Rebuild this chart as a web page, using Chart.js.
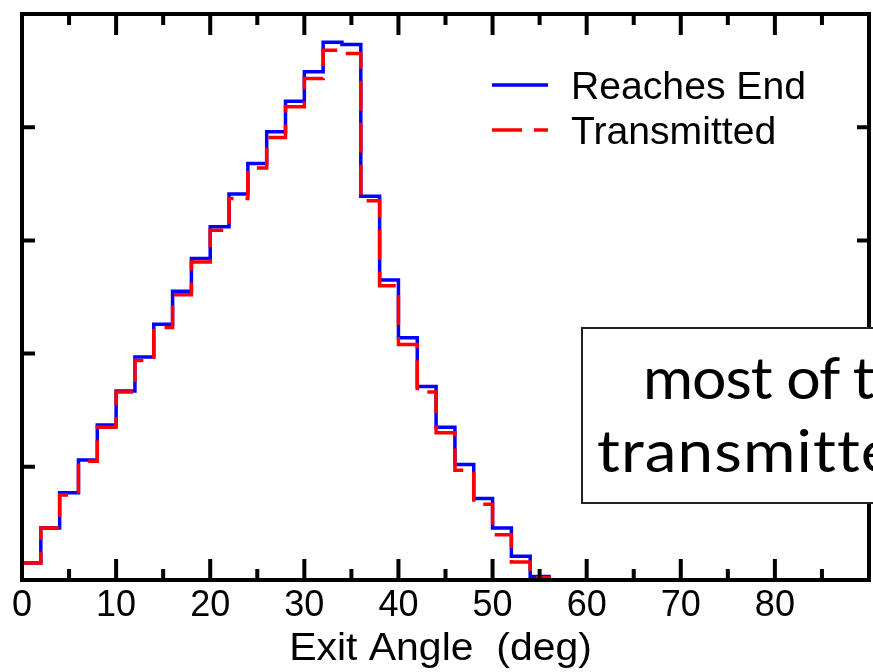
<!DOCTYPE html>
<html>
<head>
<meta charset="utf-8">
<script src="https://cdn.jsdelivr.net/npm/chart.js@4"></script>
<style>
    html, body { margin: 0; padding: 0; background: #fff; overflow: hidden; }
    #wrap { position: relative; width: 873px; height: 672px; }
    #note {
        position: absolute; left: 581px; top: 327px; width: 420px; height: 177px;
        background: #fff; border: 2px solid #222; box-sizing: border-box;
        font-family: Lato, "Open Sans", sans-serif; font-size: 58px; color: #000;
    }
    #note div {
        position: absolute; white-space: nowrap; line-height: 1;
        transform-origin: 0 0;
    }
    #note .l1 { left: 60px; top: 19px; letter-spacing: -1px; transform: scaleX(1.05); }
    #note .l2 { left: 14px; top: 92px; letter-spacing: 1px; transform: scaleX(1.1); }
</style>
</head>
<body>
<div id="wrap">
    <canvas id="histChart" width="873" height="672"></canvas>
    <div id="note">
        <div class="l1">most of the</div>
        <div class="l2">transmitted</div>
    </div>
</div>
<script>
// left edge of each 2-degree bin
const binEdges = [0, 2, 4, 6, 8, 10, 12, 14, 16, 18, 20, 22, 24, 26, 28,
                  30, 32, 34, 36, 38, 40, 42, 44, 46, 48, 50, 52, 54];
const reachesEnd = [0.15, 0.46, 0.77, 1.06, 1.37, 1.67, 1.97, 2.26, 2.55, 2.84, 3.12, 3.41, 3.68, 3.96,
                    4.23, 4.49, 4.75, 4.73, 3.39, 2.65, 2.14, 1.71, 1.35, 1.02, 0.72, 0.46, 0.21, 0.03];
const transmitted = [0.15, 0.46, 0.75, 1.05, 1.35, 1.66, 1.94, 2.23, 2.52, 2.81, 3.09, 3.37, 3.64, 3.91,
                     4.18, 4.43, 4.68, 4.65, 3.35, 2.60, 2.08, 1.66, 1.30, 0.97, 0.67, 0.40, 0.16, 0.02];
const xTickLabels = ['0', '10', '20', '30', '40', '50', '60', '70', '80'];
const xTitle = 'Exit Angle  (deg)';
const lastEdge = 56;
const xMax = 90;
const yMax = 5;

const FONT = '"Liberation Sans", Arial, sans-serif';

function toSteps(values) {
    const pts = values.map((v, i) => ({ x: binEdges[i], y: v }));
    pts.push({ x: lastEdge, y: 0 });
    pts.push({ x: xMax, y: 0 });
    return pts;
}

// text in the original is slightly wider than plain Helvetica
function wideText(ctx, text, x, y, sx, align) {
    ctx.save();
    ctx.translate(x, y);
    ctx.scale(sx, 1);
    ctx.textAlign = align;
    ctx.fillText(text, 0, 0);
    ctx.restore();
}

// frame with inward ticks on all four sides, axis title and legend
const framePlugin = {
    id: 'frame',
    afterDraw(chart) {
        const ctx = chart.ctx;
        const { left, right, top, bottom } = chart.chartArea;
        const xs = chart.scales.x, ys = chart.scales.y;
        ctx.save();
        ctx.strokeStyle = '#000';
        ctx.lineWidth = 4;
        ctx.lineCap = 'butt';
        ctx.beginPath();
        for (let v = 5; v < xMax; v += 5) {
            const px = xs.getPixelForValue(v);
            const len = v % 10 === 0 ? 21 : 11;
            ctx.moveTo(px, bottom); ctx.lineTo(px, bottom - len);
            ctx.moveTo(px, top); ctx.lineTo(px, top + len);
        }
        for (let v = 1; v < yMax; v++) {
            const py = ys.getPixelForValue(v);
            ctx.moveTo(left, py); ctx.lineTo(left + 13, py);
            ctx.moveTo(right, py); ctx.lineTo(right - 12, py);
        }
        ctx.stroke();
        ctx.strokeRect(left, top, right - left, bottom - top);

        ctx.fillStyle = '#000';
        ctx.textBaseline = 'alphabetic';

        // x axis title
        ctx.font = '39px ' + FONT;
        wideText(ctx, xTitle, xs.getPixelForValue(45) - 5, 660, 1.05, 'center');

        // legend
        ctx.font = '38px ' + FONT;
        chart.data.datasets.slice().reverse().forEach((ds, i) => {
            const y = 85 + i * 45;
            ctx.strokeStyle = ds.borderColor;
            ctx.lineWidth = 3.5;
            ctx.setLineDash(ds.borderDash || []);
            ctx.beginPath();
            ctx.moveTo(492, y); ctx.lineTo(548, y);
            ctx.stroke();
            ctx.setLineDash([]);
            wideText(ctx, ds.label, 571, y + 14, 1.03, 'left');
        });
        ctx.restore();
    }
};

const ctx = document.getElementById('histChart').getContext('2d');
new Chart(ctx, {
    type: 'line',
    data: {
        datasets: [
            {
                label: 'Transmitted',
                data: toSteps(transmitted),
                stepped: 'before',
                borderColor: '#ff0000',
                borderWidth: 3.5,
                borderDash: [30, 12],
                pointRadius: 0,
                fill: false,
                order: 1
            },
            {
                label: 'Reaches End',
                data: toSteps(reachesEnd),
                stepped: 'before',
                borderColor: '#0000ff',
                borderWidth: 3.5,
                pointRadius: 0,
                fill: false,
                order: 2
            }
        ]
    },
    options: {
        responsive: false,
        animation: false,
        layout: { padding: { left: 22, right: 3, top: 14, bottom: 0 } },
        plugins: { legend: { display: false }, tooltip: { enabled: false } },
        scales: {
            x: {
                type: 'linear',
                min: 0,
                max: xMax,
                grid: { display: false, drawTicks: false },
                border: { display: false },
                ticks: {
                    stepSize: 10,
                    autoSkip: false,
                    maxRotation: 0,
                    padding: 4,
                    color: '#000',
                    font: { family: FONT, size: 36 },
                    callback: (v, i) => xTickLabels[i] !== undefined ? xTickLabels[i] : ''
                },
                title: { display: false },
                afterFit: s => { s.height = 92; }
            },
            y: {
                display: false,
                min: 0,
                max: yMax
            }
        }
    },
    plugins: [framePlugin]
});
</script>
</body>
</html>
